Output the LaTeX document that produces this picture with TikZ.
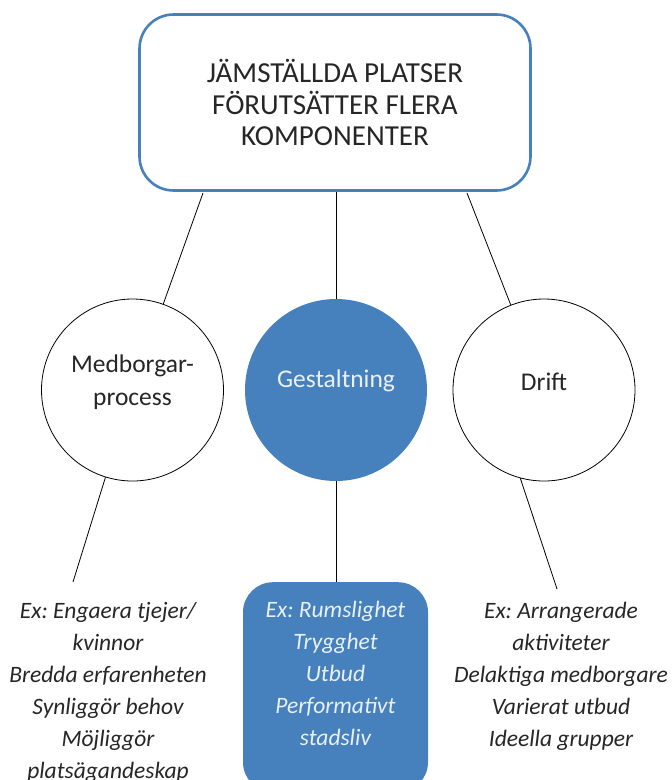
\documentclass[tikz,border=0pt]{standalone}
\usepackage{fontspec}
\setmainfont{Carlito}
\usetikzlibrary{positioning}
\definecolor{pptblue}{RGB}{70,129,189}
\definecolor{palewhite}{RGB}{234,240,248}
\frenchspacing

\begin{document}
\begin{tikzpicture}[x=1pt,y=-1pt,
  every node/.style={text=black!85},
  ring/.style={circle,draw=black,line width=0.8pt,minimum size=182pt,inner sep=0pt},
  ringtext/.style={align=center,font=\fontsize{25.5}{33}\selectfont},
  example/.style={align=center,font=\fontsize{23.5}{32}\selectfont\itshape},
  link/.style={line width=0.8pt}]
\clip (0,0) rectangle (672,780);
% top box
\node[draw=pptblue,line width=2.6pt,fill=white,rounded corners=34pt,minimum width=391pt,minimum height=176pt,
  align=center,font=\fontsize{29}{31.5}\selectfont] (top) at (335,102.5) {JÄMSTÄLLDA PLATSER\\FÖRUTSÄTTER FLERA\\KOMPONENTER};
% the three parts
\node[ring,label={[ringtext,yshift=8pt]center:{Medborgar-\\process}}] (medb) at (132.5,390) {};
\node[ring,draw=none,fill=pptblue,label={[ringtext,text=palewhite,yshift=9pt]center:Gestaltning}] (gest) at (336,390) {};
\node[ring,label={[ringtext,yshift=8pt]center:Drift}] (drift) at (544,390) {};
% examples
\node[example] (medbex) at (108,692) {Ex: Engaera tjejer/\\kvinnor\\Bredda erfarenheten\\Synliggör behov\\Möjliggör\\platsägandeskap};
\node[fill=pptblue,rounded corners=30pt,minimum width=185pt,minimum height=210pt,anchor=north,
  label={[example,text=palewhite,yshift=14pt]center:{Ex: Rumslighet\\Trygghet\\Utbud\\Performativt\\stadsliv}}] (gestex) at (335.5,582) {};
\node[example] (driftex) at (561,676) {Ex: Arrangerade\\aktiviteter\\Delaktiga medborgare\\Varierat utbud\\Ideella grupper};
% connectors
\coordinate (tl) at (203,193);
\coordinate (tr) at (467,193);
\coordinate (mend) at (73,582);
\coordinate (dend) at (557,589);
\draw[link] (tl) -- (medb);
\draw[link] (top.south -| gest.north) -- (gest.north);
\draw[link] (tr) -- (drift);
\draw[link] (medb) -- (mend);
\draw[link] (gest.south) -- (gest.south |- gestex.north);
\draw[link] (drift.255) -- (dend);
\end{tikzpicture}
\end{document}
